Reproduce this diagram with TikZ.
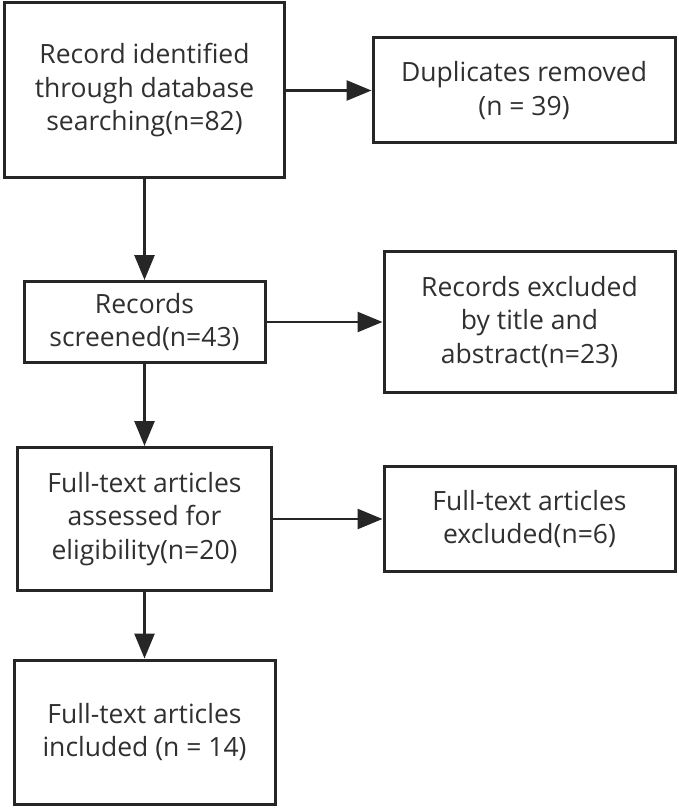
\documentclass[tikz,border=0pt]{standalone}
\usepackage{fontspec}
\setmainfont{Open Sans}
\usetikzlibrary{arrows.meta}
\definecolor{ink}{HTML}{262626}
\definecolor{txt}{HTML}{303030}
\begin{document}
\begin{tikzpicture}[x=1pt,y=-1pt,
  box/.style={draw=ink,line width=3pt,fill=white,align=center,text=txt,
    font=\fontsize{26.5}{33.5}\selectfont,inner sep=0pt},
  conn/.style={draw=ink,line width=2.6pt,-{Triangle[length=25pt,width=20pt]}}]
\useasboundingbox (0,0) rectangle (679,810);
\node[box,minimum width=280pt,minimum height=175pt] (b1) at (144.5,90.5) {Record identified\\through database\\searching(n=82)};
\node[box,minimum width=302pt,minimum height=105pt] (b2) at (524,90.5) {Duplicates removed\\(n = 39)};
\node[box,minimum width=241pt,minimum height=81pt] (b3) at (144.5,322) {Records\\screened(n=43)};
\node[box,minimum width=291pt,minimum height=141pt] (b4) at (529.5,322) {Records excluded\\by title and\\abstract(n=23)};
\node[box,minimum width=254pt,minimum height=143pt] (b5) at (144.5,519) {Full-text articles\\assessed for\\eligibility(n=20)};
\node[box,minimum width=291pt,minimum height=105pt] (b6) at (529.5,519) {Full-text articles\\excluded(n=6)};
\node[box,minimum width=261pt,minimum height=144pt] (b7) at (144.5,732) {Full-text articles\\included (n = 14)};
\draw[conn] (b1) -- (b2);
\draw[conn] (b1) -- (b3);
\draw[conn] (b3) -- (b4);
\draw[conn] (b3) -- (b5);
\draw[conn] (b5) -- (b6);
\draw[conn] (b5) -- (b7);
\end{tikzpicture}
\end{document}
